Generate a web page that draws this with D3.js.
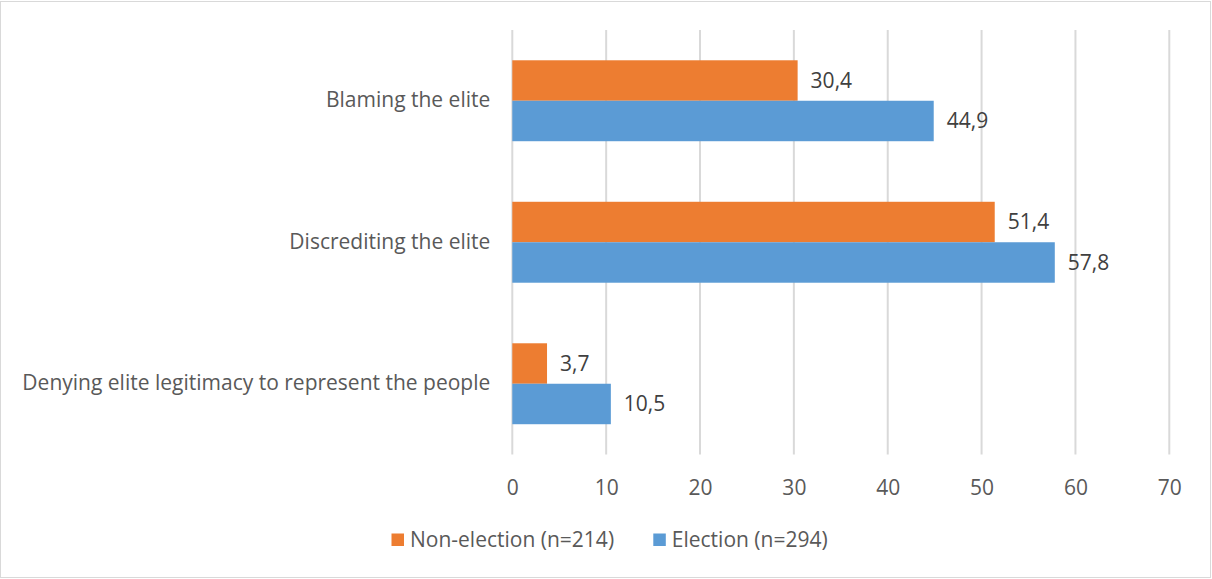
<!DOCTYPE html>
<html>
<head>
<meta charset="utf-8">
<script src="https://cdn.jsdelivr.net/npm/d3@7"></script>
<style>
  html, body { margin: 0; padding: 0; background: #fff; }
  svg { display: block; }
  text { font-family: "Open Sans", sans-serif; }
</style>
</head>
<body>
<svg id="chart" width="1212" height="579"></svg>
<script>
const categories = ["Blaming the elite", "Discrediting the elite", "Denying elite legitimacy to represent the people"];
const seriesNames = ["Non-election (n=214)", "Election (n=294)"];
const nonElection = [30.4, 51.4, 3.7];
const election = [44.9, 57.8, 10.5];
const xTicks = [0, 10, 20, 30, 40, 50, 60, 70];
const colors = ["#ED7D31", "#5B9BD5"];

const svg = d3.select("#chart");
const W = 1212, H = 579;
const margin = { top: 30, right: 42, bottom: 124.5, left: 512.3 };
const iw = W - margin.left - margin.right;
const ih = H - margin.top - margin.bottom;

svg.append("rect").attr("x", 0.5).attr("y", 1.5).attr("width", W - 2).attr("height", H - 3)
  .attr("fill", "#fff").attr("stroke", "#d9d9d9").attr("stroke-width", 1);

const g = svg.append("g").attr("transform", `translate(${margin.left},${margin.top})`);

const x = d3.scaleLinear().domain([0, 70]).range([0, 657]);
const y0 = d3.scaleBand().domain(categories).range([0, ih]).paddingInner(0.428).paddingOuter(0.214);
const y1 = d3.scaleBand().domain([0, 1]).range([0, y0.bandwidth()]);

// gridlines
g.append("g").selectAll("line").data(xTicks).join("line")
  .attr("x1", d => x(d)).attr("x2", d => x(d))
  .attr("y1", 0).attr("y2", ih)
  .attr("stroke", "#d9d9d9").attr("stroke-width", 2);

// x axis labels
const xAxis = d3.axisBottom(x).tickValues(xTicks).tickSize(0).tickPadding(0);
const ax = g.append("g").attr("transform", `translate(0,${ih})`).call(xAxis);
ax.select(".domain").remove();
ax.selectAll("text").attr("fill", "#595959").attr("font-size", 21)
  .attr("y", 40).attr("dy", 0)
  .style("font-family", "'Open Sans', sans-serif");

// y axis labels
const yAxis = d3.axisLeft(y0).tickSize(0).tickPadding(22);
const ay = g.append("g").call(yAxis);
ay.select(".domain").remove();
ay.selectAll("text").attr("fill", "#595959").attr("font-size", 21)
  .style("font-family", "'Open Sans', sans-serif");

const data = categories.map((c, i) => ({ cat: c, vals: [nonElection[i], election[i]] }));
const fmt = v => d3.format(".1f")(v).replace(".", ",");

const groups = g.selectAll("g.grp").data(data).join("g").attr("class", "grp")
  .attr("transform", d => `translate(0,${y0(d.cat)})`);

groups.selectAll("rect").data(d => d.vals.map((v, k) => ({ v, k }))).join("rect")
  .attr("x", x(0)).attr("y", d => y1(d.k))
  .attr("width", d => x(d.v) - x(0)).attr("height", y1.bandwidth())
  .attr("fill", d => colors[d.k]);

groups.selectAll("text.lbl").data(d => d.vals.map((v, k) => ({ v, k }))).join("text")
  .attr("class", "lbl")
  .attr("x", d => x(d.v) + 13).attr("y", d => y1(d.k) + y1.bandwidth() / 2)
  .attr("dy", "0.35em").attr("fill", "#404040").attr("font-size", 21)
  .text(d => fmt(d.v));

// legend
const legendX = [391.5, 653.3];
const leg = svg.append("g").selectAll("g").data(seriesNames).join("g")
  .attr("transform", (d, i) => `translate(${legendX[i]},533.5)`);
leg.append("rect").attr("width", 12.5).attr("height", 12.5).attr("fill", (d, i) => colors[i]);
leg.append("text").attr("x", 18.5).attr("y", 13.2)
  .attr("fill", "#595959").attr("font-size", 21).text(d => d);
</script>
</body>
</html>
